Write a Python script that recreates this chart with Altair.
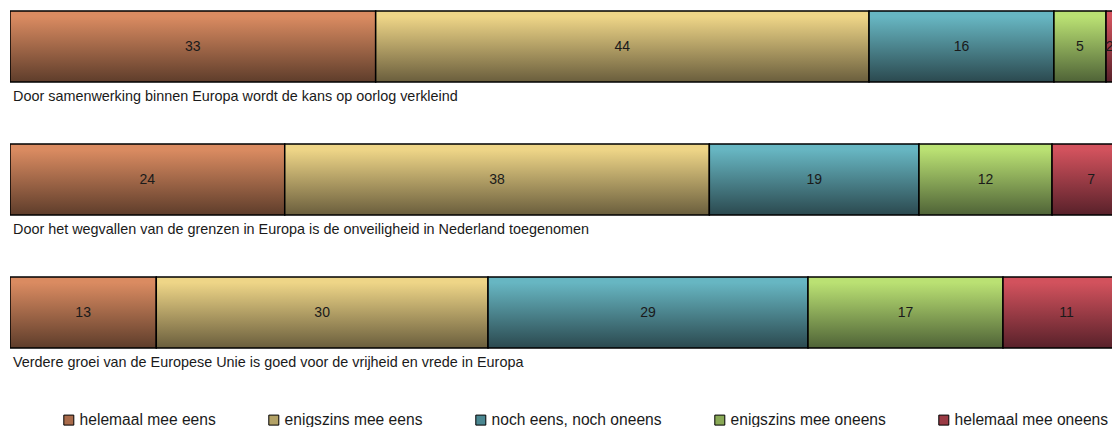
import altair as alt
import pandas as pd

statements = [
    "Door samenwerking binnen Europa wordt de kans op oorlog verkleind",
    "Door het wegvallen van de grenzen in Europa is de onveiligheid in Nederland toegenomen",
    "Verdere groei van de Europese Unie is goed voor de vrijheid en vrede in Europa",
]
categories = [
    "helemaal mee eens",
    "enigszins mee eens",
    "noch eens, noch oneens",
    "enigszins mee oneens",
    "helemaal mee oneens",
]

# segment lengths (% of each bar)
helemaal_eens = [32.65, 24.53, 13.06]
enigszins_eens = [44.05, 37.91, 29.62]
noch_noch = [16.51, 18.72, 28.57]
enigszins_oneens = [4.65, 11.88, 17.41]
helemaal_oneens = [2.14, 6.96, 11.34]

# printed labels inside the segments
lab_helemaal_eens = [33, 24, 13]
lab_enigszins_eens = [44, 38, 30]
lab_noch_noch = [16, 19, 29]
lab_enigszins_oneens = [5, 12, 17]
lab_helemaal_oneens = [2, 7, 11]

top_colors = ["#da8b61", "#eed587", "#67b6c2", "#bae173", "#d2525d"]
bot_colors = ["#5e3d2b", "#6a5e3d", "#2b494f", "#4f6337", "#58212a"]
mid_colors = ["#a96b4b", "#b3a266", "#4b8791", "#89a956", "#9a3a44"]

values = [helemaal_eens, enigszins_eens, noch_noch, enigszins_oneens, helemaal_oneens]
labels = [lab_helemaal_eens, lab_enigszins_eens, lab_noch_noch, lab_enigszins_oneens, lab_helemaal_oneens]

rows = []
for k, cat in enumerate(categories):
    for i, st in enumerate(statements):
        rows.append({"stmt": st, "cat": cat, "order": k, "value": values[k][i], "label": labels[k][i]})
df = pd.DataFrame(rows)
stmt_df = pd.DataFrame({"stmt": statements})

FONT = "Liberation Sans"
PLOT_W = 1102
XMAX = PLOT_W / 11.2

yenc = alt.Y("stmt:N", sort=statements,
             scale=alt.Scale(domain=statements, paddingInner=0, paddingOuter=0), axis=None)
xscale = alt.Scale(domain=[0, XMAX], nice=False, zero=False)

base = alt.Chart(df).transform_stack(
    stack="value", groupby=["stmt"], as_=["x0", "x1"],
    sort=[alt.SortField("order", order="ascending")]
)

layers = []
for k, cat in enumerate(categories):
    grad = alt.Gradient(
        gradient="linear", x1=0, y1=0, x2=0, y2=1,
        stops=[alt.GradientStop(color=top_colors[k], offset=0),
               alt.GradientStop(color=top_colors[k], offset=0.08),
               alt.GradientStop(color=bot_colors[k], offset=1)],
    )
    layers.append(
        base.transform_filter(alt.datum.cat == cat)
        .mark_bar(fill=grad, stroke="#000000", strokeWidth=1.5, height=71, yOffset=-28, clip=True)
        .encode(x=alt.X("x0:Q", scale=xscale, axis=None), x2="x1:Q", y=yenc)
    )

legend_layer = base.mark_bar(strokeWidth=0, height=71, yOffset=-28).encode(
    x=alt.X("x0:Q", scale=xscale, axis=None),
    x2="x0:Q",
    y=yenc,
    color=alt.Color(
        "cat:N",
        scale=alt.Scale(domain=categories, range=mid_colors),
        legend=alt.Legend(
            title=None, orient="none", legendX=51, legendY=404, direction="horizontal",
            symbolType="square", symbolSize=100, symbolStrokeColor="#000000", symbolStrokeWidth=1,
            labelFontSize=15.6, labelFont=FONT, labelColor="#1a1a1a", columnPadding=50, labelOffset=3,
            labelLimit=400,
        ),
    ),
)

seg_text = base.transform_calculate(
    mid="min((datum.x0 + datum.x1) / 2, %f)" % (XMAX - 0.2)
).mark_text(
    fontSize=14, font=FONT, color="#1a1a1a", baseline="middle", align="center", yOffset=-28, clip=True
).encode(x=alt.X("mid:Q", scale=xscale, axis=None), y=yenc, text="label:Q")

stmt_text = alt.Chart(stmt_df).mark_text(
    fontSize=14.4, font=FONT, color="#1a1a1a", baseline="middle", align="left", yOffset=22, dx=3
).encode(x=alt.datum(0), y=yenc, text="stmt:N")

chart = alt.layer(*layers, legend_layer, seg_text, stmt_text).properties(
    width=PLOT_W, height=399, padding={"left": 2, "top": 0, "right": 0, "bottom": 0}
).configure(background="white").configure_view(stroke="transparent", strokeWidth=0)

chart.save("out.html", embed_options={"renderer": "svg", "actions": False})
